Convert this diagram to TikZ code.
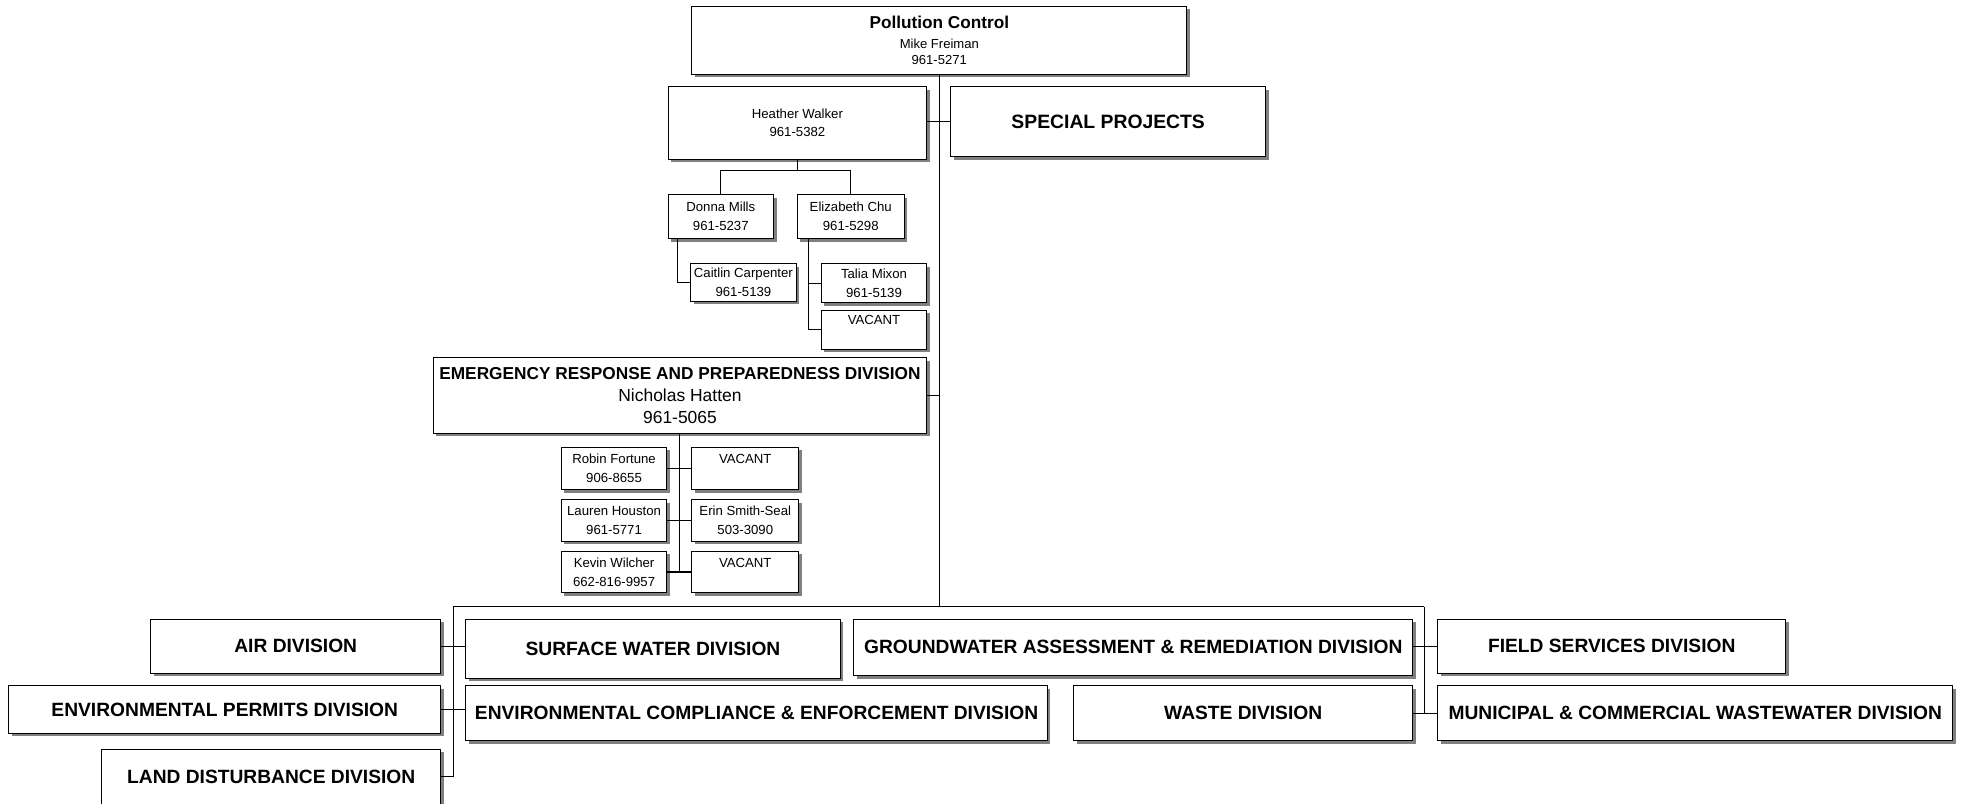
\documentclass[tikz,border=0pt]{standalone}
\usepackage{fontspec}
\setmainfont{Liberation Sans}
\usepackage{tikz}
\usetikzlibrary{shadows, calc}

\tikzset{
  unit/.style={draw, fill=white, line width=0.8pt, align=center, inner sep=0pt,
    drop shadow={shadow xshift=2.4pt, shadow yshift=-2.4pt, fill=black!50, opacity=1}},
  boxsize/.style 2 args={minimum width=#1pt, minimum height=#2pt},
  staff/.style={unit, font=\fontsize{10.5}{15}\selectfont},
  division/.style={unit, font=\bfseries\fontsize{15.3}{18}\selectfont},
  link/.style={line width=0.8pt}
}

\begin{document}
\begin{tikzpicture}[x=1pt, y=-1pt]
  \useasboundingbox (0,0) rectangle (1568,640);

  % head office and its staff
  \node[unit, boxsize={394}{54}, font=\fontsize{10.4}{13}\selectfont] (pc) at (748,32)
    {{\bfseries\fontsize{13.7}{16}\selectfont Pollution Control}\\[3pt]Mike Freiman\\961-5271};
  \node[staff, boxsize={206}{58}, font=\fontsize{10.5}{14}\selectfont] (hw) at (635,98) {Heather Walker\\961-5382};
  \node[division, boxsize={251}{56}, font=\bfseries\fontsize{15.4}{18}\selectfont] (sp) at (882.5,97) {SPECIAL PROJECTS};
  \node[staff, boxsize={84}{35}] (dm) at (574,172.5) {Donna Mills\\961-5237};
  \node[staff, boxsize={85}{35}] (ec) at (677.5,172.5) {Elizabeth Chu\\961-5298};
  \node[staff, boxsize={84}{30}] (cc) at (592,225) {Caitlin Carpenter\\961-5139};
  \node[staff, boxsize={84}{31}] (tm) at (696,225.5) {Talia Mixon\\961-5139};
  \node[staff, boxsize={84}{31}] (va1) at (696,262.5) {VACANT\\~};

  % emergency response
  \node[unit, boxsize={393}{60}, font=\fontsize{13.9}{17.5}\selectfont] (er) at (541.5,315)
    {{\bfseries\fontsize{13.75}{17}\selectfont EMERGENCY RESPONSE AND PREPAREDNESS DIVISION}\\Nicholas Hatten\\961-5065};
  \node[staff, boxsize={84}{34}] (rf) at (489,373) {Robin Fortune\\906-8655};
  \node[staff, boxsize={85}{34}] (va2) at (593.5,373) {VACANT\\~};
  \node[staff, boxsize={84}{33}] (lh) at (489,414.5) {Lauren Houston\\961-5771};
  \node[staff, boxsize={85}{33}] (es) at (593.5,414.5) {Erin Smith-Seal\\503-3090};
  \node[staff, boxsize={84}{33}] (kw) at (489,455.5) {Kevin Wilcher\\662-816-9957};
  \node[staff, boxsize={85}{33}] (va3) at (593.5,455.5) {VACANT\\~};

  % divisions
  \node[division, boxsize={231}{43}] (air) at (235.5,514.5) {AIR DIVISION};
  \node[division, boxsize={298}{47}] (sw) at (520,516.5) {SURFACE WATER DIVISION};
  \node[division, boxsize={445}{45}] (gw) at (902.5,515.5) {GROUNDWATER ASSESSMENT \& REMEDIATION DIVISION};
  \node[division, boxsize={277}{43}] (fs) at (1283.5,514.5) {FIELD SERVICES DIVISION};
  \node[division, boxsize={344}{38}] (ep) at (179,565) {ENVIRONMENTAL PERMITS DIVISION};
  \node[division, boxsize={463}{44}] (ecd) at (602.5,568) {ENVIRONMENTAL COMPLIANCE \& ENFORCEMENT DIVISION};
  \node[division, boxsize={270}{44}] (wd) at (990,568) {WASTE DIVISION};
  \node[division, boxsize={410}{44}] (mc) at (1350,568) {MUNICIPAL \& COMMERCIAL WASTEWATER DIVISION};
  \node[division, boxsize={270}{44}] (ld) at (216,618.5) {LAND DISTURBANCE DIVISION};

  \coordinate (bus) at (748,483);
  \coordinate (busL) at (361,483);
  \coordinate (busR) at (1134,483);
  \coordinate (hwfork) at (635,136);

  \draw[link] (pc.south) -- (bus);
  \draw[link] (busL) -- (busR);
  \draw[link] (busL) -- (busL |- ld.east);
  \draw[link] (busR) -- (busR |- wd.east);
  \draw[link] (sp.west) -- (sp.west -| hw.east);
  \draw[link] (er.east) -- (er.east -| bus);

  \draw[link] (hw.south) -- (hwfork);
  \draw[link] (dm.north) |- (hwfork) -| (ec.north);
  \draw[link] ([xshift=8pt]dm.south west) |- (cc.west);
  \draw[link] ([xshift=9pt]ec.south west) |- (va1.west);
  \draw[link] (tm.west) -| ([xshift=9pt]ec.south west);

  \draw[link] (er.south) -- (er.south |- kw.east);
  \draw[link]
    (rf) edge (va2)
    (lh) edge (es)
    (kw) edge (va3)
    (wd) edge (mc);

  \draw[link] (air.east) -- (air.east -| sw.west);
  \draw[link] (ep.east) -- (ep.east -| ecd.west);
  \draw[link] (ld.east) -- (ld.east -| busL);
  \draw[link] (fs.west) -- (fs.west -| gw.east);
\end{tikzpicture}
\end{document}
